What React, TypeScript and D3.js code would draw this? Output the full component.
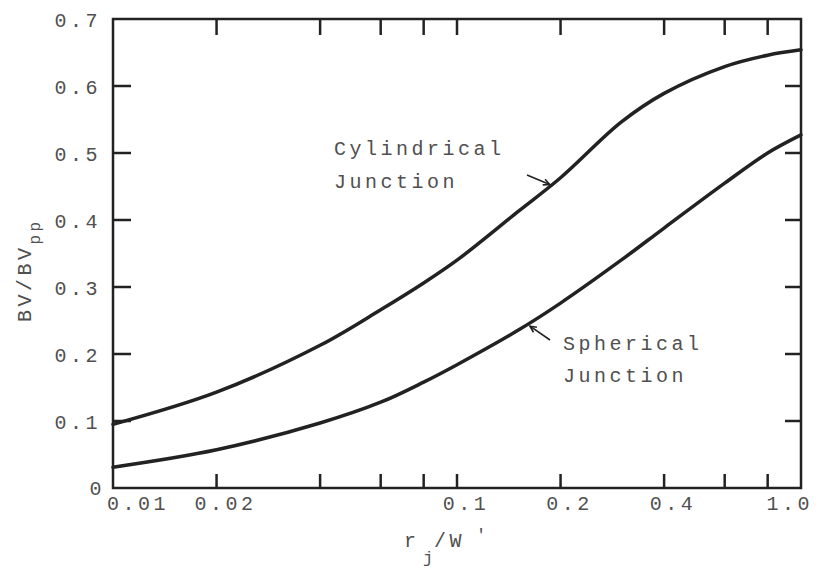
import React, { useEffect, useRef } from 'react'
import * as d3 from 'd3'

// r_j / W' values where curves were read
const ratio = [0.01, 0.02, 0.04, 0.06, 0.08, 0.1, 0.15, 0.2, 0.3, 0.4, 0.6, 0.8, 1.0]
// BV / BV_pp
const cylindrical = [0.095, 0.143, 0.213, 0.266, 0.306, 0.34, 0.412, 0.463, 0.546, 0.589, 0.629, 0.646, 0.654]
const spherical = [0.031, 0.057, 0.097, 0.128, 0.158, 0.184, 0.235, 0.276, 0.34, 0.388, 0.455, 0.5, 0.527]

const xTicks = [0.01, 0.02, 0.04, 0.06, 0.08, 0.1, 0.2, 0.4, 0.6, 0.8, 1.0]
const xTickLabels = ['0.01', '0.02', '', '', '', '0.1', '0.2', '0.4', '', '', '1.0']
const yTicks = [0, 0.1, 0.2, 0.3, 0.4, 0.5, 0.6, 0.7]
const yTickLabels = ['0', '0.1', '0.2', '0.3', '0.4', '0.5', '0.6', '0.7']

const W = 832
const H = 573
const margin = { top: 19, right: 31, bottom: 85, left: 113 }

const FONT = '"Liberation Mono", "DejaVu Sans Mono", monospace'
const INK = '#222'
const TYPE = '#505050'

export default function App() {
	const ref = useRef<SVGSVGElement>(null)

	useEffect(() => {
		const svg = d3.select(ref.current)
		svg.selectAll('*').remove()

		const x = d3.scaleLog()
			.domain([0.01, 1])
			.range([margin.left, W - margin.right])

		const y = d3.scaleLinear()
			.domain([0, 0.7])
			.range([H - margin.bottom, margin.top])

		const x0 = x.range()[0], x1 = x.range()[1]
		const y0 = y.range()[0], y1 = y.range()[1]
		const tick = 16

		// frame
		svg.append('rect')
			.attr('x', x0)
			.attr('y', y1)
			.attr('width', x1 - x0)
			.attr('height', y0 - y1)
			.attr('fill', 'none')
			.attr('stroke', INK)
			.attr('stroke-width', 2.5)

		// x ticks, bottom and top, pointing inward
		const xt = svg.append('g')
			.attr('stroke', INK)
			.attr('stroke-width', 2.5)
		xTicks.slice(1, -1).forEach(v => {
			xt.append('line')
				.attr('x1', x(v)).attr('x2', x(v))
				.attr('y1', y0).attr('y2', y0 - tick + 2)
			xt.append('line')
				.attr('x1', x(v)).attr('x2', x(v))
				.attr('y1', y1).attr('y2', y1 + tick)
		})

		// y ticks, left and right
		const yt = svg.append('g')
			.attr('stroke', INK)
			.attr('stroke-width', 2.5)
		yTicks.slice(1, -1).forEach(v => {
			yt.append('line')
				.attr('x1', x0).attr('x2', x0 + tick + 2)
				.attr('y1', y(v)).attr('y2', y(v))
			yt.append('line')
				.attr('x1', x1).attr('x2', x1 - tick)
				.attr('y1', y(v)).attr('y2', y(v))
		})

		const type = svg.append('g')
			.attr('font-family', FONT)
			.attr('font-size', 20)
			.attr('letter-spacing', 3.5)
			.attr('fill', TYPE)

		// x tick labels
		const last = xTicks.length - 1
		xTicks.forEach((v, i) => {
			if (!xTickLabels[i]) return
			type.append('text')
				.attr('x', i === 0 ? x(v) - 6 : i === last ? x(v) + 12 : x(v) + 9)
				.attr('y', y0 + 22)
				.attr('text-anchor', i === 0 ? 'start' : i === last ? 'end' : 'middle')
				.text(xTickLabels[i])
		})

		// y tick labels
		yTicks.forEach((v, i) => {
			type.append('text')
				.attr('x', i === 0 ? x0 - 8 : x0 - 12)
				.attr('y', i === 0 ? y(v) + 7 : y(v) + 8)
				.attr('text-anchor', 'end')
				.text(yTickLabels[i])
		})

		// curves
		const line = d3.line<number>()
			.x((d, i) => x(ratio[i]))
			.y(d => y(d))
			.curve(d3.curveCatmullRom.alpha(0.5))

		;[cylindrical, spherical].forEach(s => {
			svg.append('path')
				.datum(s)
				.attr('d', line)
				.attr('fill', 'none')
				.attr('stroke', INK)
				.attr('stroke-width', 3.5)
				.attr('stroke-linecap', 'round')
		})

		// annotations
		type.append('text').attr('x', 334).attr('y', 155).text('Cylindrical')
		type.append('text').attr('x', 334).attr('y', 188).text('Junction')
		type.append('text').attr('x', 563).attr('y', 350).text('Spherical')
		type.append('text').attr('x', 563).attr('y', 382).text('Junction')

		const arrow = (ax: number, ay: number, bx: number, by: number) => {
			const g = svg.append('g')
				.attr('stroke', INK)
				.attr('stroke-width', 1.6)
				.attr('fill', 'none')
			g.append('line')
				.attr('x1', ax).attr('y1', ay)
				.attr('x2', bx).attr('y2', by)
			const a = Math.atan2(by - ay, bx - ax)
			const h = 7
			g.append('path')
				.attr('d', `M${bx - h * Math.cos(a - 0.45)},${by - h * Math.sin(a - 0.45)}L${bx},${by}L${bx - h * Math.cos(a + 0.45)},${by - h * Math.sin(a + 0.45)}`)
		}
		// arrow tips sit on the curves
		arrow(527, 175, x(0.186), y(0.45) - 2)
		arrow(550, 340, x(0.163), y(0.246) + 3)

		// axis titles
		const yl = type.append('text')
			.attr('transform', 'translate(31,322) rotate(-90)')
		yl.append('tspan').text('BV/BV')
		yl.append('tspan')
			.attr('dy', 9)
			.attr('font-size', 16)
			.text('pp')

		type.append('text').attr('x', 404).attr('y', 547).text('r')
		type.append('text').attr('x', 423).attr('y', 563).attr('font-size', 17).text('j')
		type.append('text').attr('x', 434).attr('y', 547).text('/W')
		type.append('text').attr('x', 476).attr('y', 540).attr('font-size', 17).text("'")
	}, [])

	return (
		<svg
			ref={ref}
			width={W}
			height={H}
			style={{ position: 'absolute', left: 0, top: 0, background: '#fff' }}
		/>
	)
}
